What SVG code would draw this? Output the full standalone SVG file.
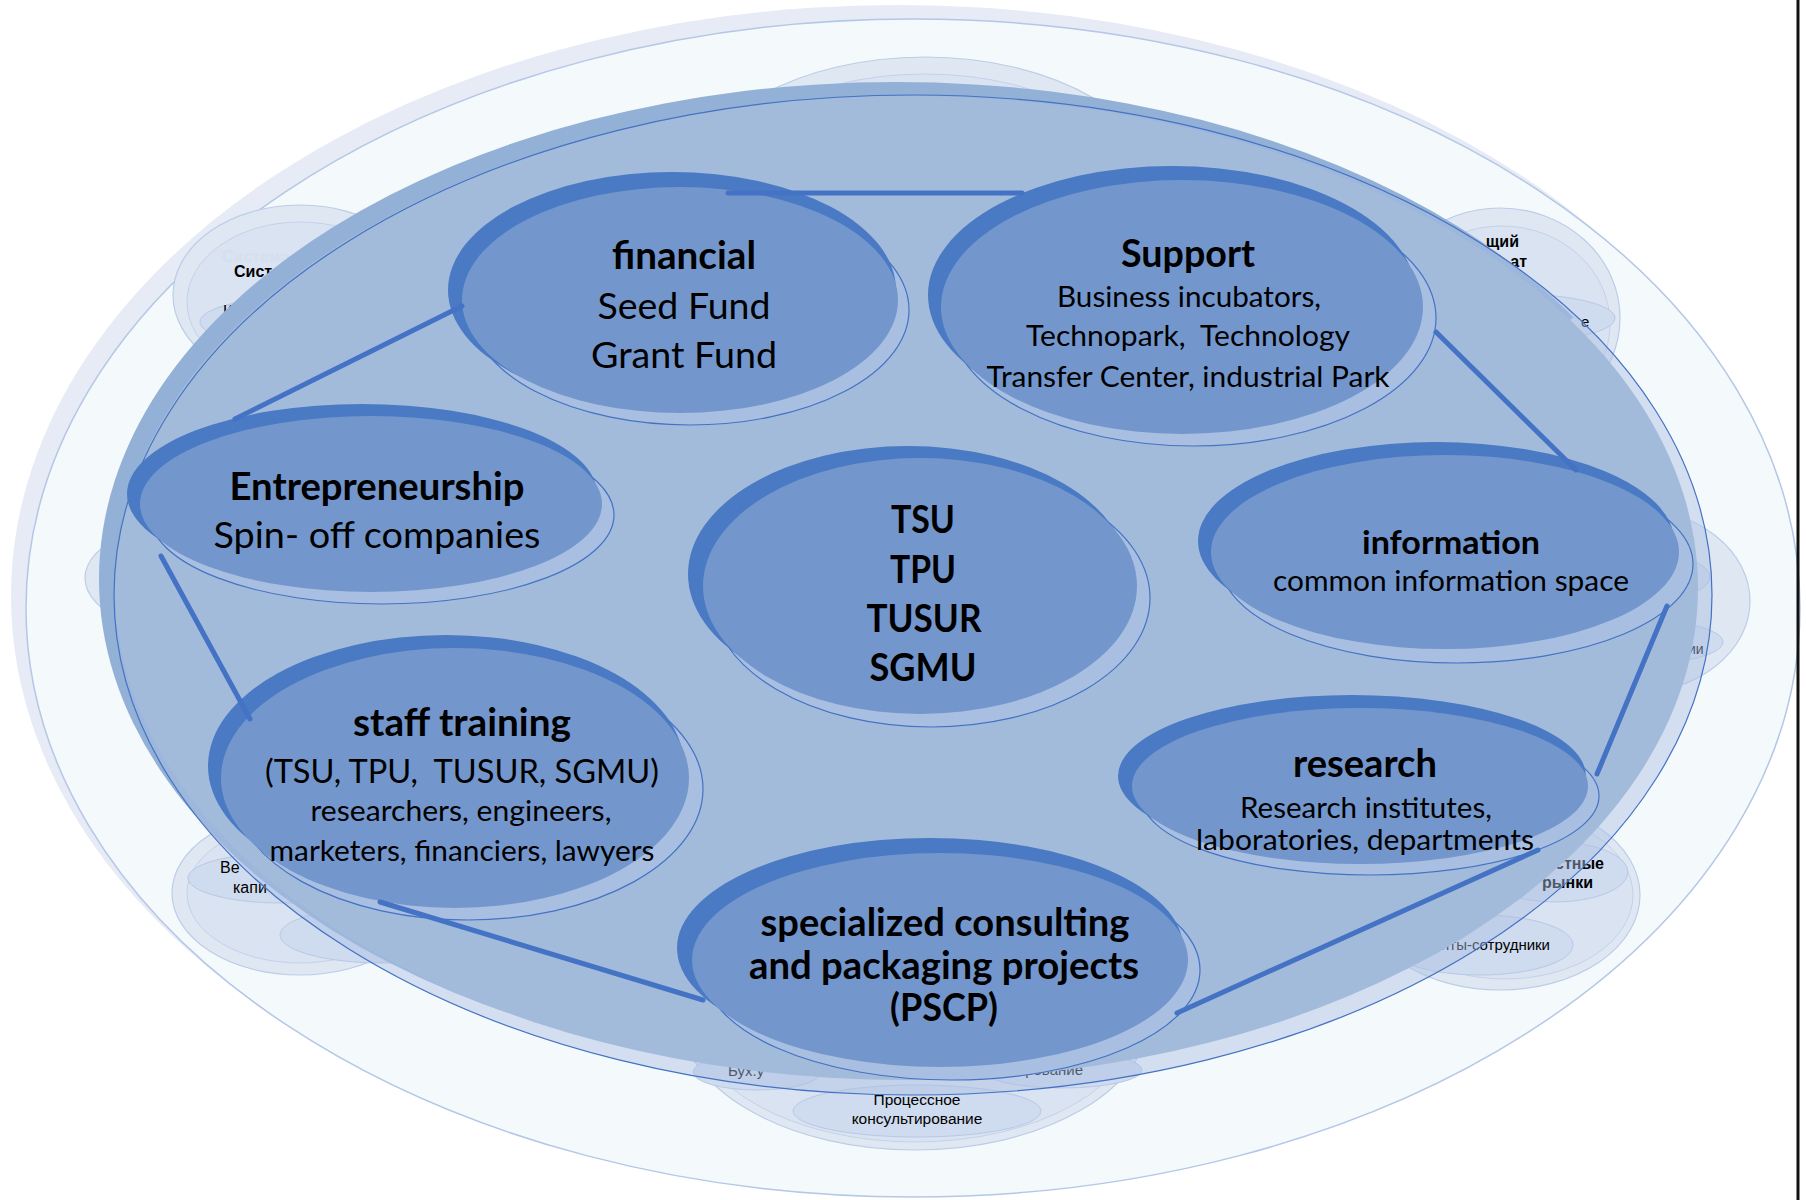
<svg xmlns="http://www.w3.org/2000/svg" width="1806" height="1200" viewBox="0 0 1806 1200">
<defs>
<clipPath id="clipA"><polygon points="0,0 1806,0 1806,166 0,1343"/></clipPath>
</defs>
<style>
.nt{font-family:Lato,"Liberation Sans",sans-serif;fill:#000;text-anchor:middle}
.b{font-weight:700}
.s38{font-size:37.5px}
.s33{font-size:33px}
.s29{font-size:29.5px}
.gt{font-family:"Liberation Sans",Arial,sans-serif;fill:#000;font-size:16px}
.gb{font-weight:700}
.go{fill:#dfe7f3;stroke:#bccde8;stroke-width:1.2}
.gr{fill:#dae3f1;stroke:#c3d2ea;stroke-width:1}
.gx{fill:#cfdbee;stroke:#b7c9e6;stroke-width:1}
.ol{fill:#a9bfe2;stroke:#4472c4;stroke-width:1.2}
.dk{fill:#4a7ac4}
.mn{fill:#7397cd}
.cn{stroke:#4472c4;stroke-width:5;fill:none;stroke-linecap:round}
</style>
<rect width="1806" height="1200" fill="#fff"/>
<g id="frame">
<ellipse cx="898" cy="596" rx="887" ry="591" fill="#e6ebf5"/>
<ellipse cx="913" cy="608" rx="887" ry="589" fill="#f4f9fb" stroke="#b4c7e7" stroke-width="1.5"/>
</g>
<g id="ghost-top">
<ellipse class="go" cx="925" cy="200" rx="240" ry="143"/>
<ellipse class="gr" cx="925" cy="207" rx="226" ry="133"/>
</g>
<g id="ghost-topleft">
<ellipse class="go" cx="300" cy="295" rx="127" ry="90"/>
<ellipse class="gr" cx="300" cy="302" rx="113" ry="80"/>
<ellipse class="gx" cx="300" cy="322" rx="100" ry="25"/>
<text class="gt gb" x="222" y="262" style="fill:#d6dfed">Система</text>
<text class="gt gb" x="234" y="277">Систе</text>
<text class="gt" x="223" y="317">К</text>
</g>
<g id="ghost-topright">
<ellipse class="go" cx="1500" cy="318" rx="120" ry="110"/>
<ellipse class="gr" cx="1502" cy="324" rx="108" ry="98"/>
<ellipse class="gx" cx="1515" cy="318" rx="100" ry="24"/>
<text class="gt gb" x="1519" y="247" text-anchor="end">щий</text>
<text class="gt gb" x="1527" y="267" text-anchor="end">ат</text>
<text class="gt" x="1581" y="327" style="font-size:15px">е</text>
</g>
<g id="ghost-left">
<ellipse class="go" cx="240" cy="578" rx="155" ry="66"/>
<ellipse class="gr" cx="245" cy="580" rx="140" ry="56"/>
</g>
<g id="ghost-right">
<ellipse class="go" cx="1630" cy="601" rx="120" ry="93"/>
<ellipse class="gx" cx="1645" cy="577" rx="65" ry="24"/>
<ellipse class="gx" cx="1640" cy="642" rx="83" ry="22"/>
<text class="gt" x="1688" y="654" style="font-size:14px">ии</text>
</g>
<g id="ghost-bottomright">
<ellipse class="go" cx="1500" cy="895" rx="140" ry="95"/>
<ellipse class="gr" cx="1505" cy="895" rx="128" ry="84"/>
<ellipse class="gx" cx="1555" cy="872" rx="73" ry="30"/>
<ellipse class="gx" cx="1480" cy="945" rx="93" ry="30"/>
<text class="gt gb" x="1604" y="869" text-anchor="end">стные</text>
<text class="gt gb" x="1593" y="888" text-anchor="end">рынки</text>
<text class="gt" x="1550" y="950" text-anchor="end" style="font-size:15px">енты-сотрудники</text>
</g>
<g id="ghost-bottom">
<ellipse class="go" cx="915" cy="1012" rx="236" ry="138"/>
<ellipse class="gr" cx="915" cy="1015" rx="224" ry="127"/>
<ellipse class="gx" cx="757" cy="1072" rx="64" ry="18"/>
<ellipse class="gx" cx="1062" cy="1070" rx="80" ry="18"/>
<ellipse class="gx" cx="917" cy="1111" rx="124" ry="26"/>
<text class="gt" x="728" y="1076" style="font-size:15px">Бух.у</text>
<text class="gt" x="1083" y="1075" text-anchor="end" style="font-size:15px">рование</text>
<text class="gt" x="917" y="1105" text-anchor="middle" style="font-size:15.5px">Процессное</text>
<text class="gt" x="917" y="1124" text-anchor="middle" style="font-size:15.5px">консультирование</text>
</g>
<g id="ghost-bottomleft">
<ellipse class="go" cx="300" cy="893" rx="128" ry="82"/>
<ellipse class="gr" cx="300" cy="893" rx="113" ry="70"/>
<ellipse class="gx" cx="282" cy="878" rx="94" ry="25"/>
<ellipse class="gx" cx="382" cy="935" rx="102" ry="28"/>
<text class="gt" x="220" y="873">Ве</text>
<text class="gt" x="233" y="893">капи</text>
</g>
<g id="main-ellipse">
<ellipse cx="896" cy="579" rx="797" ry="497" fill="#93b0d6" clip-path="url(#clipA)"/>
<ellipse cx="913" cy="595" rx="799" ry="500" fill="#abbfe3" fill-opacity="0.45"/>
<ellipse cx="906.5" cy="588" rx="791.5" ry="492" fill="#a3bbdb"/>
<ellipse cx="913" cy="595" rx="799" ry="500" fill="none" stroke="#4472c4" stroke-width="1.2"/>
</g>
<g id="node-financial">
<ellipse class="ol" cx="690" cy="310" rx="219" ry="115"/>
<ellipse class="dk" cx="672" cy="290" rx="224" ry="118"/>
<ellipse class="mn" cx="680" cy="300" rx="218" ry="113"/>
<text class="nt b s38" x="684" y="269" textLength="144" lengthAdjust="spacingAndGlyphs">financial</text>
<text class="nt s38" x="684" y="319" textLength="173" lengthAdjust="spacingAndGlyphs">Seed Fund</text>
<text class="nt s38" x="684" y="368" textLength="186" lengthAdjust="spacingAndGlyphs">Grant Fund</text>
</g>
<g id="node-support">
<ellipse class="ol" cx="1193" cy="318" rx="243" ry="128"/>
<ellipse class="dk" cx="1172" cy="295" rx="244" ry="129"/>
<ellipse class="mn" cx="1182" cy="307" rx="241" ry="127"/>
<text class="nt b s38" x="1188" y="267" textLength="134" lengthAdjust="spacingAndGlyphs">Support</text>
<text class="nt s29" x="1189" y="307" textLength="264" lengthAdjust="spacingAndGlyphs">Business incubators,</text>
<text class="nt s29" x="1188" y="346" textLength="324" lengthAdjust="spacingAndGlyphs" xml:space="preserve">Technopark,  Technology</text>
<text class="nt s29" x="1188" y="387" textLength="403" lengthAdjust="spacingAndGlyphs">Transfer Center, industrial Park</text>
</g>
<g id="node-entrepreneurship">
<ellipse class="ol" cx="382" cy="515" rx="232" ry="89"/>
<ellipse class="dk" cx="362" cy="494" rx="235" ry="90"/>
<ellipse class="mn" cx="371" cy="504" rx="231" ry="88"/>
<text class="nt b s38" x="377" y="500" textLength="295" lengthAdjust="spacingAndGlyphs">Entrepreneurship</text>
<text class="nt s38" x="377" y="548" textLength="327" lengthAdjust="spacingAndGlyphs">Spin- off companies</text>
</g>
<g id="node-universities">
<ellipse class="ol" cx="931" cy="598" rx="219" ry="129"/>
<ellipse class="dk" cx="908" cy="574" rx="220" ry="128"/>
<ellipse class="mn" cx="920" cy="586" rx="217" ry="128"/>
<text class="nt b s38" x="923" y="533" textLength="64" lengthAdjust="spacingAndGlyphs">TSU</text>
<text class="nt b s38" x="923" y="583" textLength="66" lengthAdjust="spacingAndGlyphs">TPU</text>
<text class="nt b s38" x="924" y="632" textLength="115" lengthAdjust="spacingAndGlyphs">TUSUR</text>
<text class="nt b s38" x="923" y="681" textLength="107" lengthAdjust="spacingAndGlyphs">SGMU</text>
</g>
<g id="node-information">
<ellipse class="ol" cx="1457" cy="564" rx="236" ry="99"/>
<ellipse class="dk" cx="1436" cy="541" rx="238" ry="99"/>
<ellipse class="mn" cx="1445" cy="552" rx="234" ry="97"/>
<text class="nt b s33" x="1451" y="554" textLength="178" lengthAdjust="spacingAndGlyphs">information</text>
<text class="nt s29" x="1451" y="591" textLength="356" lengthAdjust="spacingAndGlyphs">common information space</text>
</g>
<g id="node-staff">
<ellipse class="ol" cx="468" cy="789" rx="235" ry="131"/>
<ellipse class="dk" cx="446" cy="766" rx="238" ry="131"/>
<ellipse class="mn" cx="455" cy="778" rx="234" ry="130"/>
<text class="nt b s38" x="462" y="736" textLength="218" lengthAdjust="spacingAndGlyphs">staff training</text>
<text class="nt s33" x="462" y="783" textLength="394" lengthAdjust="spacingAndGlyphs" xml:space="preserve">(TSU, TPU,  TUSUR, SGMU)</text>
<text class="nt s29" x="461" y="821" textLength="301" lengthAdjust="spacingAndGlyphs">researchers, engineers,</text>
<text class="nt s29" x="462" y="861" textLength="385" lengthAdjust="spacingAndGlyphs">marketers, financiers, lawyers</text>
</g>
<g id="node-research">
<ellipse class="ol" cx="1370" cy="796" rx="229" ry="79"/>
<ellipse class="dk" cx="1352" cy="776" rx="234" ry="81"/>
<ellipse class="mn" cx="1360" cy="786" rx="228" ry="78"/>
<text class="nt b s38" x="1365" y="777" textLength="144" lengthAdjust="spacingAndGlyphs">research</text>
<text class="nt s29" x="1366" y="818" textLength="252" lengthAdjust="spacingAndGlyphs">Research institutes,</text>
<text class="nt s29" x="1365" y="850" textLength="338" lengthAdjust="spacingAndGlyphs">laboratories, departments</text>
</g>
<g id="node-pscp">
<ellipse class="ol" cx="952" cy="970" rx="248" ry="110"/>
<ellipse class="dk" cx="930" cy="948" rx="253" ry="110"/>
<ellipse class="mn" cx="940" cy="960" rx="248" ry="107"/>
<text class="nt b s38" x="945" y="936" textLength="369" lengthAdjust="spacingAndGlyphs">specialized consulting</text>
<text class="nt b s38" x="944" y="979" textLength="390" lengthAdjust="spacingAndGlyphs">and packaging projects</text>
<text class="nt b s38" x="944" y="1021" textLength="108" lengthAdjust="spacingAndGlyphs">(PSCP)</text>
</g>
<g id="connectors">
<line class="cn" x1="728" y1="193" x2="1022" y2="193"/>
<line class="cn" x1="235" y1="419" x2="462" y2="306"/>
<line class="cn" x1="1436" y1="332" x2="1576" y2="470"/>
<line class="cn" x1="1667" y1="606" x2="1597" y2="774"/>
<line class="cn" x1="1538" y1="850" x2="1177" y2="1013"/>
<line class="cn" x1="703" y1="1000" x2="380" y2="902"/>
<line class="cn" x1="161" y1="556" x2="250" y2="719"/>
</g>
<line id="edge" x1="1798" y1="0" x2="1798" y2="1200" stroke="#111" stroke-width="3"/>
</svg>
